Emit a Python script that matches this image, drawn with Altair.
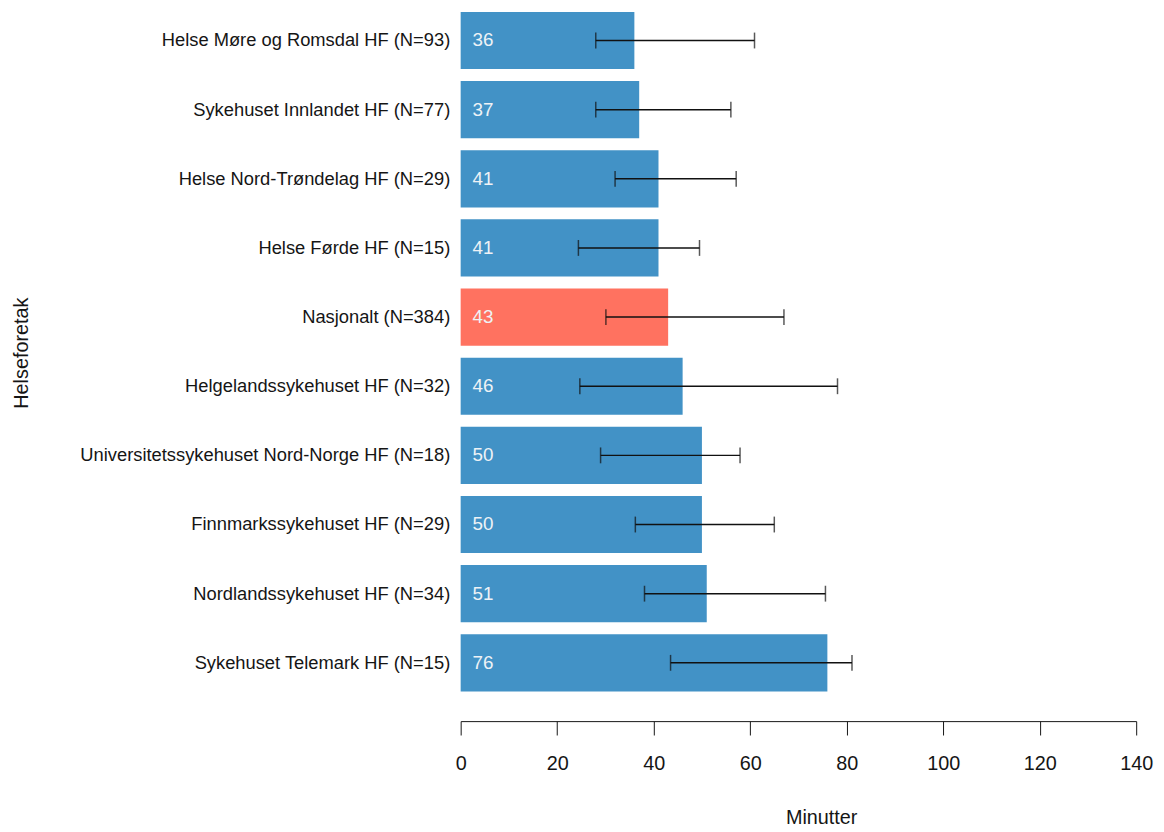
import altair as alt
import pandas as pd

names = [
    "Helse Møre og Romsdal HF (N=93)",
    "Sykehuset Innlandet HF (N=77)",
    "Helse Nord-Trøndelag HF (N=29)",
    "Helse Førde HF (N=15)",
    "Nasjonalt (N=384)",
    "Helgelandssykehuset HF (N=32)",
    "Universitetssykehuset Nord-Norge HF (N=18)",
    "Finnmarkssykehuset HF (N=29)",
    "Nordlandssykehuset HF (N=34)",
    "Sykehuset Telemark HF (N=15)",
]
values = [36, 37, 41, 41, 43, 46, 50, 50, 51, 76]
lower = [28.0, 28.0, 32.0, 24.4, 30.1, 24.7, 29.0, 36.2, 38.1, 43.5]
upper = [60.9, 56.0, 57.1, 49.5, 67.0, 78.1, 57.9, 65.0, 75.6, 81.1]
groups = ["HF", "HF", "HF", "HF", "Nasjonalt", "HF", "HF", "HF", "HF", "HF"]

df = pd.DataFrame({
    "name": names, "value": values, "lo": lower, "hi": upper, "group": groups,
    "label": [str(v) for v in values],
})

FONT = "Liberation Sans"

yenc = alt.Y(
    "name:N", sort=names,
    scale=alt.Scale(paddingInner=0.173, paddingOuter=0),
    axis=alt.Axis(
        title="Helseforetak", domain=False, ticks=False, labelPadding=11,
        labelFont=FONT, labelFontSize=18.5, labelColor="#151515", labelLimit=600,
        titleFont=FONT, titleFontSize=20, titleFontWeight="normal", titleColor="#151515",
        titleAngle=270, titleX=-443, titleY=344, titleAlign="center", titleBaseline="middle",
    ),
)

xscale = alt.Scale(domain=[0, 140], nice=False)

bars = alt.Chart(df).mark_bar().encode(
    x=alt.X(
        "value:Q", scale=xscale,
        axis=alt.Axis(
            title="Minutter", values=[0, 20, 40, 60, 80, 100, 120, 140], grid=False,
            offset=30, tickSize=14, tickColor="#151515", domainColor="#151515",
            tickWidth=1, domainWidth=1, labelPadding=19, labelFlush=False,
            labelFont=FONT, labelFontSize=20, labelColor="#151515",
            titleFont=FONT, titleFontSize=20, titleFontWeight="normal", titleColor="#151515",
            titleX=364, titleY=97, titleAlign="center", titleBaseline="middle",
        ),
    ),
    y=yenc,
    color=alt.Color("group:N", scale=alt.Scale(domain=["HF", "Nasjonalt"], range=["#4292C6", "#FF7260"]), legend=None),
)

text = alt.Chart(df).mark_text(
    align="left", baseline="middle", dx=12, font=FONT, fontSize=19, color="#EEF2F6"
).encode(
    x=alt.datum(0, scale=xscale),
    y=alt.Y("name:N", sort=names),
    text="label:N",
)

rule = alt.Chart(df).mark_rule(color="#111111", strokeWidth=1.5).encode(
    x=alt.X("lo:Q", scale=xscale),
    x2="hi:Q",
    y=alt.Y("name:N", sort=names),
)

cap_lo = alt.Chart(df).mark_tick(color="#111111", thickness=1.5, size=16).encode(
    x=alt.X("lo:Q", scale=xscale),
    y=alt.Y("name:N", sort=names),
)
cap_hi = alt.Chart(df).mark_tick(color="#111111", thickness=1.5, size=16).encode(
    x=alt.X("hi:Q", scale=xscale),
    y=alt.Y("name:N", sort=names),
)

chart = alt.layer(bars, text, rule, cap_lo, cap_hi).properties(
    width=682, height=686,
    autosize=alt.AutoSizeParams(type="none"),
    padding={"left": 457, "top": 0, "right": 20, "bottom": 140},
    background="white",
).configure_view(stroke=None)

chart.save("out.html", embed_options={"renderer": "svg", "actions": False})
